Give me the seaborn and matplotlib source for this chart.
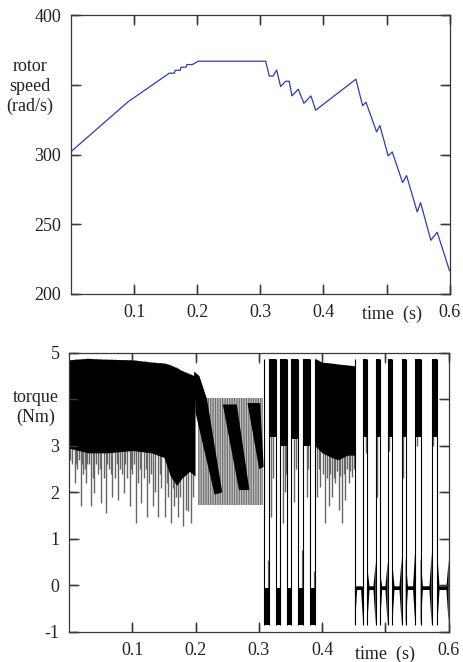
import numpy as np
import pandas as pd
import matplotlib
matplotlib.use("Agg")
import matplotlib.pyplot as plt
import matplotlib.transforms as mtransforms
import seaborn as sns

# ---------------- data: rotor speed ----------------
speed_t = [0.0, 0.0908, 0.1558, 0.1637, 0.1653, 0.1732, 0.1743, 0.1822, 0.1838, 0.1922,
           0.2017, 0.3085, 0.3142, 0.3205, 0.3259, 0.3322, 0.3401, 0.3459, 0.3501, 0.3601,
           0.3691, 0.3802, 0.3829, 0.3876, 0.4515, 0.4621, 0.4674, 0.4843, 0.4895, 0.5027,
           0.5091, 0.5255, 0.5318, 0.5487, 0.5540, 0.5703, 0.5803, 0.6]
speed_v = [302.1, 338.0, 358.4, 358.4, 360.5, 360.5, 362.7, 362.7, 364.6, 364.6,
           367.0, 367.0, 356.4, 356.4, 360.7, 348.8, 352.6, 352.6, 342.1, 346.9,
           336.8, 342.1, 338.5, 331.8, 354.1, 335.1, 337.6, 316.3, 320.8, 299.0,
           301.9, 279.9, 284.9, 258.8, 265.5, 238.5, 244.3, 216.5]

# ---------------- data: torque envelopes ----------------
bandA_t = [0.0, 0.03, 0.06, 0.10, 0.13, 0.15, 0.16, 0.17, 0.178, 0.19, 0.199]
bandA_top = [4.85, 4.88, 4.86, 4.85, 4.80, 4.78, 4.74, 4.68, 4.62, 4.55, 4.50]
bandA_bot = [2.95, 2.85, 2.85, 2.90, 2.85, 2.75, 2.35, 2.15, 2.30, 2.45, 2.35]
spkA_t = [0.002, 0.004, 0.0085, 0.011, 0.013, 0.016, 0.018, 0.020, 0.022, 0.025, 0.027,
          0.029, 0.031, 0.034, 0.037, 0.040, 0.043, 0.046, 0.049, 0.051, 0.055, 0.058,
          0.060, 0.063, 0.066, 0.068, 0.072, 0.075, 0.077, 0.081, 0.084, 0.086, 0.089,
          0.091, 0.096, 0.098, 0.100, 0.103, 0.105, 0.109, 0.112, 0.114, 0.118, 0.121,
          0.123, 0.127, 0.130, 0.132, 0.136, 0.140, 0.143, 0.146, 0.151, 0.154, 0.156,
          0.161, 0.164, 0.166, 0.169, 0.172, 0.176, 0.180, 0.184, 0.188, 0.192, 0.196]
spkA_v = [2.7, 2.6, 2.2, 2.6, 2.5, 2.7, 1.7, 2.6, 2.4, 2.5, 2.2,
          2.6, 2.6, 1.7, 2.3, 1.98, 2.6, 2.4, 2.5, 1.77, 2.3, 1.55,
          2.6, 2.5, 2.4, 1.91, 2.3, 2.6, 1.84, 2.5, 2.4, 1.98, 2.6,
          2.3, 1.7, 2.5, 2.4, 2.6, 1.34, 2.2, 2.5, 1.77, 2.3, 2.5,
          1.48, 2.2, 2.4, 1.7, 2.0, 1.48, 2.4, 2.1, 1.48, 2.2, 1.9,
          1.34, 2.1, 1.7, 1.9, 1.48, 1.9, 1.27, 1.62, 1.6, 1.34, 1.9]
gray_t = [0.203, 0.307]
gray_top = [4.02, 4.02]
gray_bot = [1.72, 1.72]
diag1_t = [0.1975, 0.2060, 0.2180, 0.2420, 0.2300, 0.2000]
diag1_v = [4.60, 4.50, 4.00, 2.00, 1.95, 3.70]
diag2_t = [0.2430, 0.2650, 0.2850, 0.2685]
diag2_v = [3.89, 3.89, 2.05, 2.05]
diag3_t = [0.2820, 0.3020, 0.3075, 0.3005]
diag3_v = [3.92, 3.92, 2.55, 2.50]
hi1_start = [0.3155, 0.3332, 0.3512, 0.3691]
hi1_end = [0.3264, 0.3445, 0.3618, 0.3807]
hi1_bot = [3.2, 3.0, 3.15, 3.0]
lo1_start = [0.3080, 0.3264, 0.3445, 0.3618, 0.3807]
lo1_end = [0.3155, 0.3332, 0.3512, 0.3691, 0.3886]
lo1_spk_t = [0.3144, 0.3330, 0.3500, 0.3686, 0.3870]
lo1_spk_v = [0.55, 0.0, -0.03, 0.75, 0.3]
bandB_t = [0.3886, 0.400, 0.415, 0.425, 0.440, 0.4518]
bandB_top = [4.88, 4.80, 4.78, 4.76, 4.74, 4.72]
bandB_bot = [3.00, 2.85, 2.75, 2.70, 2.80, 2.80]
spkB_t = [0.3191, 0.3215, 0.3385, 0.3410, 0.3425, 0.3559, 0.3590, 0.3754, 0.3780,
          0.3918, 0.3945, 0.3970, 0.4010, 0.4049, 0.4075, 0.4102, 0.4130, 0.4154, 0.4180,
          0.4207, 0.4235, 0.4260, 0.4285, 0.4312, 0.4340, 0.4365, 0.4392, 0.4418, 0.4445,
          0.4470, 0.4500,
          0.4690, 0.4860, 0.5050, 0.5275, 0.5500, 0.5750]
spkB_v = [1.48, 2.30, 1.34, 2.00, 2.40, 1.80, 2.50, 1.91, 2.50,
          1.91, 2.50, 2.12, 2.40, 1.34, 2.30, 1.70, 2.40, 1.91, 2.30,
          2.20, 2.45, 1.63, 2.35, 1.34, 2.40, 1.84, 2.50, 2.20, 2.45,
          2.34, 2.50,
          2.85, 1.90, 2.90, 2.30, 3.00, 3.00]
hi2_start = [0.4650, 0.4846, 0.5035, 0.5257, 0.5472, 0.5731]
hi2_end = [0.4713, 0.4914, 0.5108, 0.5320, 0.5557, 0.5820]
hi2_bot = [3.2, 3.2, 3.2, 3.2, 3.2, 3.2]
lo2_start = [0.4518, 0.4713, 0.4914, 0.5108, 0.5320, 0.5557, 0.5820]
lo2_end = [0.4650, 0.4846, 0.5035, 0.5257, 0.5472, 0.5731, 0.6000]
lo2_up_start = [-0.03, 0.40, 0.30, 0.50, 0.60, 0.60, 0.70]
lo2_up_end = [-0.03, 0.50, 0.50, 0.60, 0.80, 0.70, 0.55]
torque_hi_top = 4.87
torque_lo_bot = -0.85

xticks = [0.1, 0.2, 0.3, 0.4, 0.5, 0.6]
xticklabels = ["0.1", "0.2", "0.3", "0.4", "", "0.6"]
speed_ticks = [200, 250, 300, 350, 400]
speed_ticklabels = ["200", "250", "300", "", "400"]
torque_ticks = [-1, 0, 1, 2, 3, 4, 5]
torque_ticklabels = ["-1", "0", "1", "2", "3", "", "5"]

# ---------------- style ----------------
sns.set_theme(style="ticks")
plt.rcParams["font.family"] = ["Liberation Serif", "DejaVu Serif"]
plt.rcParams["hatch.linewidth"] = 0.9

fig = plt.figure(figsize=(4.64, 6.62), dpi=100)
ax1 = fig.add_axes([0.153, 0.556, 0.816, 0.421])
ax2 = fig.add_axes([0.149, 0.0455, 0.818, 0.4215])

FS = 13
SP = "#3a3a3a"
TICK_PX = 7.5


def style(ax, yticks, ylabels, ylims):
    ax.set_xlim(0, 0.6)
    ax.set_ylim(*ylims)
    ax.set_xticks(xticks)
    ax.set_xticklabels(xticklabels)
    ax.set_yticks(yticks)
    ax.set_yticklabels(ylabels)
    ax.minorticks_off()
    for s in ax.spines.values():
        s.set_visible(True)
        s.set_color(SP)
        s.set_linewidth(0.9)
    ax.set_xlabel("")
    ax.set_ylabel("")
    ax.grid(False)
    ax.xaxis.set_tick_params(which="major", direction="in", length=TICK_PX, width=1.0,
                             color=SP, top=True, bottom=True,
                             labelcolor="#222222", labelsize=FS, pad=7)
    ax.yaxis.set_tick_params(which="major", direction="in", length=TICK_PX, width=1.0,
                             color=SP, left=True, right=True,
                             labelcolor="#222222", labelsize=FS, pad=7)
    # inward tick marks on all four sides, placed at the tick values
    bbox = ax.get_position()
    W = fig.get_figwidth() * fig.dpi * bbox.width
    H = fig.get_figheight() * fig.dpi * bbox.height
    lx = TICK_PX / H
    ly = TICK_PX / W
    tx = mtransforms.blended_transform_factory(ax.transData, ax.transAxes)
    ty = mtransforms.blended_transform_factory(ax.transAxes, ax.transData)
    for t in xticks:
        ax.plot([t, t], [0, lx], transform=tx, color=SP, lw=1.0, clip_on=False, zorder=5)
        ax.plot([t, t], [1, 1 - lx], transform=tx, color=SP, lw=1.0, clip_on=False, zorder=5)
    for v in yticks:
        ax.plot([0, ly], [v, v], transform=ty, color=SP, lw=1.0, clip_on=False, zorder=5)
        ax.plot([1, 1 - ly], [v, v], transform=ty, color=SP, lw=1.0, clip_on=False, zorder=5)


# ---------------- top: rotor speed ----------------
df_speed = pd.DataFrame({"t": speed_t, "w": speed_v})
sns.lineplot(data=df_speed, x="t", y="w", ax=ax1, color="#2e3f9e", lw=0.9,
             estimator=None, sort=False)
style(ax1, speed_ticks, speed_ticklabels, (200, 400))
ax1.text(-0.108, 0.745, "rotor\nspeed\n(rad/s)", transform=ax1.transAxes,
         ha="center", va="center", fontsize=FS, color="#222222", linespacing=1.2)
ax1.text(0.847, -0.072, "time  (s)", transform=ax1.transAxes,
         ha="center", va="center", fontsize=FS, color="#222222")

# ---------------- bottom: torque ----------------
K = "black"
SG = "#666666"

ax2.vlines(spkA_t, spkA_v, np.interp(spkA_t, bandA_t, bandA_top), color=SG, lw=1.0, zorder=1)
ax2.vlines(spkB_t, spkB_v, 3.6, color=SG, lw=1.0, zorder=1)

ax2.fill_between(gray_t, gray_bot, gray_top, facecolor="#c4c4c4", edgecolor="#727272",
                 hatch="|||||||", lw=0, zorder=1.2)
ax2.fill_between(bandA_t, bandA_bot, bandA_top, color=K, lw=0, zorder=1.5)
for dt, dv in [(diag1_t, diag1_v), (diag2_t, diag2_v), (diag3_t, diag3_v)]:
    ax2.fill(dt, dv, color=K, lw=0, zorder=1.5)

for s, e, b in zip(hi1_start + hi2_start, hi1_end + hi2_end, hi1_bot + hi2_bot):
    ax2.fill_between([s, e], [b, b], [torque_hi_top, torque_hi_top], color=K, lw=0, zorder=1.5)
ax2.fill_between(bandB_t, bandB_bot, bandB_top, color=K, lw=0, zorder=1.5)

for s, e in zip(lo1_start, lo1_end):
    ax2.fill_between([s, e], [torque_lo_bot] * 2, [-0.05, -0.05], color=K, lw=0, zorder=1.5)
ax2.vlines(lo1_spk_t, -0.1, lo1_spk_v, color=SG, lw=0.9, zorder=1.4)

w = 0.0035
for s, e, u0, u1 in zip(lo2_start, lo2_end, lo2_up_start, lo2_up_end):
    xs = [s, s + w, e - w, e, e, e - w, s + w, s]
    ys = [u0, -0.02, -0.02, u1, torque_lo_bot, -0.10, -0.10, torque_lo_bot]
    ax2.fill(xs, ys, color=K, lw=0, zorder=1.5)

edges = sorted(set(lo1_start + lo1_end + lo2_start + lo2_end[:-1]))
ax2.vlines(edges, torque_lo_bot, torque_hi_top, color=K, lw=0.8, zorder=1.6)

style(ax2, torque_ticks, torque_ticklabels, (-1, 5))
ax2.text(-0.089, 0.805, "torque\n(Nm)", transform=ax2.transAxes,
         ha="center", va="center", fontsize=FS, color="#222222", linespacing=1.2)
ax2.text(0.832, -0.082, "time  (s)", transform=ax2.transAxes,
         ha="center", va="center", fontsize=FS, color="#222222")

fig.savefig("out.png", dpi=100)
